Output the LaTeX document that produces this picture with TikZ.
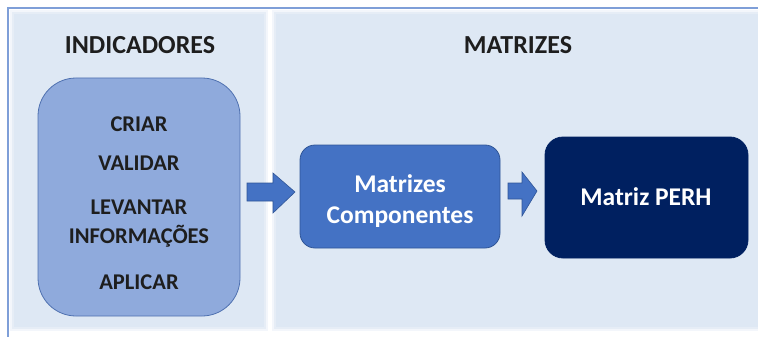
\documentclass[tikz,border=0pt]{standalone}
\usepackage{fontspec}
\setmainfont{Carlito}
\definecolor{panel}{HTML}{DEE8F4}
\definecolor{frameblue}{HTML}{7F9FD8}
\definecolor{lightbox}{HTML}{8FAADC}
\definecolor{lightedge}{HTML}{4F71B0}
\definecolor{midbox}{HTML}{4472C4}
\definecolor{midedge}{HTML}{2F5597}
\definecolor{darkbox}{HTML}{002060}
\definecolor{txt}{HTML}{1E1E1E}
\begin{document}
\begin{tikzpicture}[x=1pt,y=-1pt,
  title/.style={font=\bfseries\fontsize{26}{30}\selectfont, text=txt, anchor=base, inner sep=0pt},
  item/.style={font=\bfseries\fontsize{22.5}{27}\selectfont, text=txt, anchor=base, inner sep=0pt},
  boxtext/.style={font=\bfseries\fontsize{25.5}{31}\selectfont, text=white, anchor=base, inner sep=0pt, align=center},
  blockarrow/.style={fill=midbox, draw=midedge, line width=0.6pt, line join=miter}
]
\useasboundingbox (0,0) rectangle (758,337);
\fill[white] (0,0) rectangle (758,337);
% panels with soft edges
\foreach \d/\o in {0/0.35,2/0.6,4/1} {
  \fill[panel, opacity=\o] (10+\d,10+\d) rectangle (268-\d,331-\d);
  \fill[panel, opacity=\o] (272+\d,10+\d) rectangle (758,331-\d);
}
% outer frame
\draw[frameblue, line width=2pt] (8,337) -- (8,8) -- (758,8);

% titles
\node[title] (t1) at (140,54) {INDICADORES};
\node[title] (t2) at (518,54) {MATRIZES};

% left rounded box
\draw[fill=lightbox, draw=lightedge, line width=0.8pt, rounded corners=38pt] (38,78) rectangle (240,316);
\coordinate (lb) at (139,197);
\node[item] (i1) at (139,131) {CRIAR};
\node[item] (i2) at (139,170) {VALIDAR};
\node[item] (i3) at (139,214) {LEVANTAR};
\node[item] (i4) at (139,243) {INFORMAÇÕES};
\node[item] (i5) at (139,289) {APLICAR};

% middle box
\draw[fill=midbox, draw=midedge, line width=0.8pt, rounded corners=15pt] (300,145) rectangle (500,248);
\node[boxtext] (m1) at (400,192) {Matrizes};
\node[boxtext] (m2) at (400,223) {Componentes};

% right box
\draw[fill=darkbox, draw=darkbox, line width=0.8pt, rounded corners=18pt] (545,137) rectangle (748,258);
\node[boxtext] (p1) at (646,205) {Matriz PERH};

% block arrows
\draw[blockarrow] (247,183) -- (273,183) -- (273,173) -- (295,192) -- (273,213) -- (273,201) -- (247,201) -- cycle;
\draw[blockarrow] (508,183) -- (522,183) -- (522,172) -- (537,191) -- (522,216) -- (522,199) -- (508,199) -- cycle;
\end{tikzpicture}
\end{document}
